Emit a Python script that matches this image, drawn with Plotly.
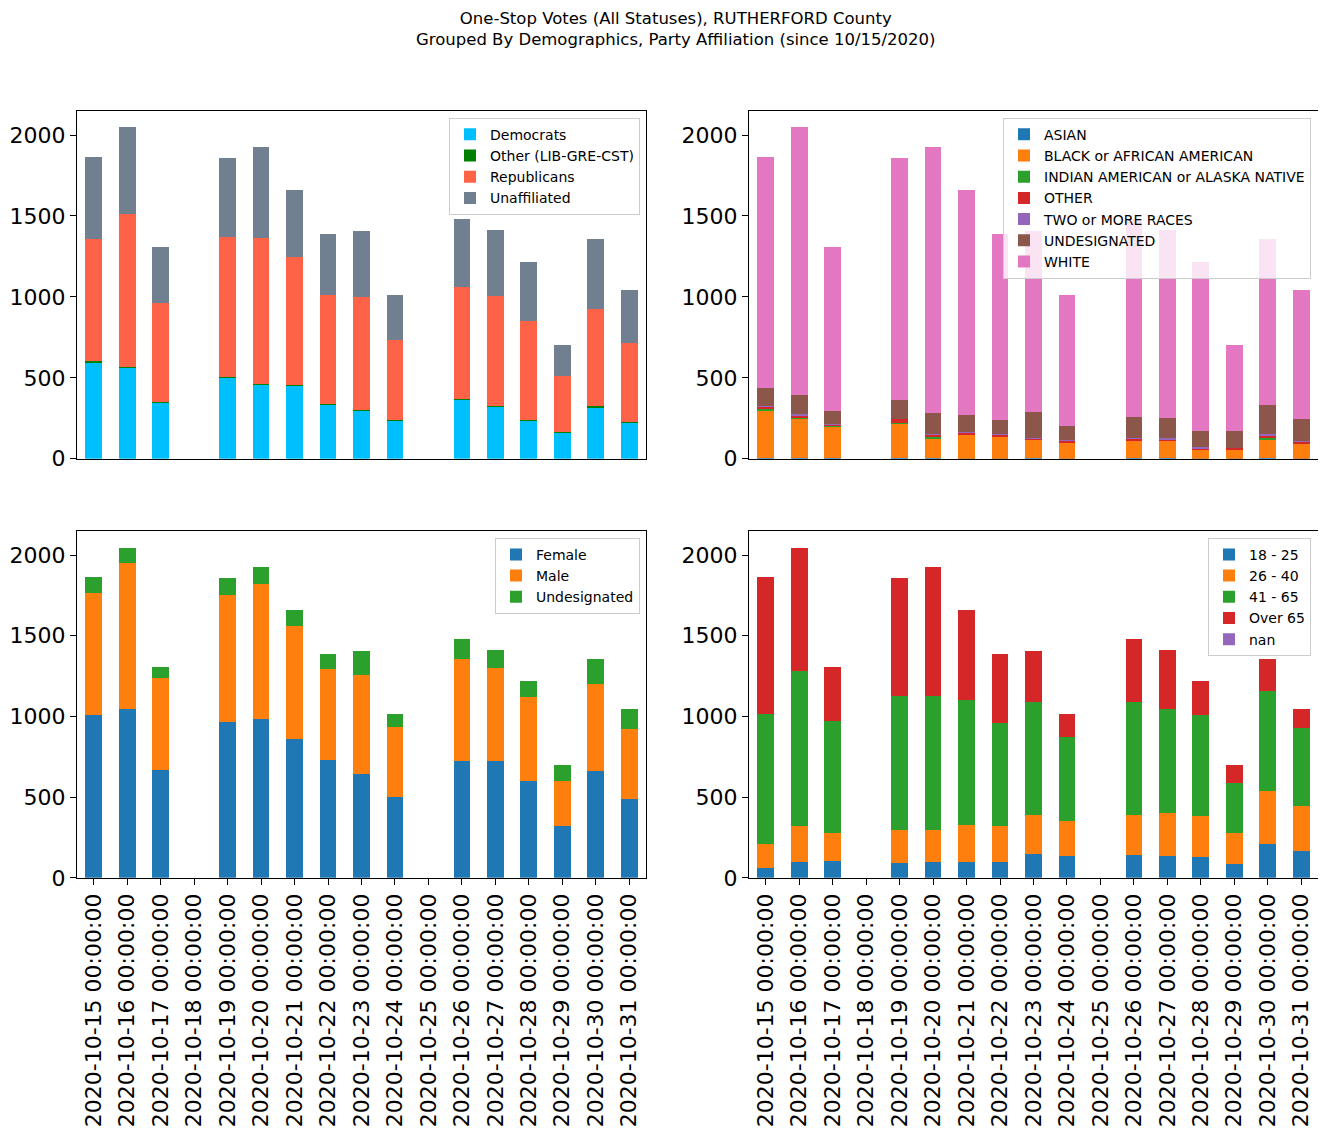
import plotly.graph_objects as go

dates = ["2020-10-15 00:00:00", "2020-10-16 00:00:00", "2020-10-17 00:00:00", "2020-10-18 00:00:00",
         "2020-10-19 00:00:00", "2020-10-20 00:00:00", "2020-10-21 00:00:00", "2020-10-22 00:00:00",
         "2020-10-23 00:00:00", "2020-10-24 00:00:00", "2020-10-25 00:00:00", "2020-10-26 00:00:00",
         "2020-10-27 00:00:00", "2020-10-28 00:00:00", "2020-10-29 00:00:00", "2020-10-30 00:00:00",
         "2020-10-31 00:00:00"]

# Party affiliation
democrats = [598, 568, 346, 0, 506, 461, 451, 334, 297, 236, 0, 365, 322, 236, 164, 316, 223]
other_party = [6, 1, 4, 0, 2, 2, 5, 2, 4, 1, 0, 4, 3, 3, 3, 8, 1]
republicans = [754, 943, 615, 0, 863, 904, 788, 678, 697, 495, 0, 694, 683, 615, 343, 604, 489]
unaffiliated = [505, 535, 344, 0, 486, 557, 416, 375, 410, 282, 0, 418, 406, 363, 191, 430, 332]

# Race
asian = [6, 6, 5, 0, 5, 2, 1, 1, 6, 1, 0, 6, 2, 1, 1, 6, 1]
black = [295, 242, 198, 0, 216, 127, 148, 135, 111, 98, 0, 105, 113, 55, 55, 117, 92]
indian = [5, 4, 1, 0, 1, 5, 1, 1, 1, 0, 0, 1, 1, 1, 0, 5, 1]
other_race = [16, 18, 8, 0, 25, 14, 12, 12, 10, 16, 0, 12, 4, 8, 12, 18, 12]
two_more = [1, 4, 1, 0, 1, 6, 1, 5, 1, 1, 0, 1, 6, 6, 1, 6, 1]
undesignated_race = [113, 119, 82, 0, 115, 129, 108, 84, 160, 86, 0, 133, 126, 101, 103, 178, 138]
white = [1427, 1654, 1014, 0, 1494, 1641, 1389, 1151, 1119, 812, 0, 1223, 1162, 1045, 529, 1028, 800]

# Gender
female = [1008, 1045, 670, 0, 965, 984, 861, 732, 645, 498, 0, 725, 725, 602, 320, 664, 486]
male = [756, 904, 566, 0, 787, 836, 700, 565, 615, 436, 0, 633, 578, 517, 282, 535, 436]
undesignated_gender = [99, 98, 73, 0, 105, 104, 99, 92, 148, 80, 0, 123, 111, 98, 99, 159, 123]

# Age
age_18_25 = [61, 98, 105, 0, 92, 98, 98, 98, 148, 135, 0, 141, 135, 129, 86, 209, 166]
age_26_40 = [148, 222, 172, 0, 203, 197, 228, 222, 239, 215, 0, 246, 265, 252, 191, 332, 277]
age_41_65 = [805, 959, 694, 0, 830, 830, 774, 639, 701, 523, 0, 701, 645, 627, 313, 615, 485]
age_over_65 = [849, 768, 338, 0, 732, 799, 560, 430, 320, 141, 0, 393, 369, 209, 111, 202, 117]
age_nan = [0] * 17

tab = ["#1f77b4", "#ff7f0e", "#2ca02c", "#d62728", "#9467bd", "#8c564b", "#e377c2"]

panels = [
    ("x", "y", "legend", [("Democrats", democrats, "#00BFFF"),
                          ("Other (LIB-GRE-CST)", other_party, "#008000"),
                          ("Republicans", republicans, "#FF6347"),
                          ("Unaffiliated", unaffiliated, "#708090")]),
    ("x2", "y2", "legend2", [("ASIAN", asian, tab[0]),
                             ("BLACK or AFRICAN AMERICAN", black, tab[1]),
                             ("INDIAN AMERICAN or ALASKA NATIVE", indian, tab[2]),
                             ("OTHER", other_race, tab[3]),
                             ("TWO or MORE RACES", two_more, tab[4]),
                             ("UNDESIGNATED", undesignated_race, tab[5]),
                             ("WHITE", white, tab[6])]),
    ("x3", "y3", "legend3", [("Female", female, tab[0]),
                             ("Male", male, tab[1]),
                             ("Undesignated", undesignated_gender, tab[2])]),
    ("x4", "y4", "legend4", [("18 - 25", age_18_25, tab[0]),
                             ("26 - 40", age_26_40, tab[1]),
                             ("41 - 65", age_41_65, tab[2]),
                             ("Over 65", age_over_65, tab[3]),
                             ("nan", age_nan, tab[4])]),
]

fig = go.Figure()
for xa, ya, lg, series in panels:
    for name, vals, color in series:
        fig.add_trace(go.Bar(x=dates, y=vals, name=name, xaxis=xa, yaxis=ya, legend=lg,
                             marker=dict(color=color, line=dict(width=0)),
                             hoverinfo="x+y+name"))

# page body has an 8px margin; figure is sized to fit inside the window
OFF = 8
W, H = 1314, 1125
def px_x(p):
    return (p - OFF) / W
def px_y(p):
    return 1 - (p - OFF) / H

left_dom = [px_x(77), px_x(646)]
right_dom = [px_x(749), px_x(1318)]
top_dom = [px_y(464), px_y(112)]
bot_dom = [px_y(888), px_y(537)]

font_family = "DejaVu Sans"
tick_font = dict(family=font_family, size=22, color="black")

def xaxis(dom, anchor, labels):
    return dict(domain=dom, anchor=anchor, type="category", range=[-0.5, 16.5],
                showline=True, linecolor="black", linewidth=1, mirror=True,
                showgrid=False, zeroline=False,
                ticks="outside" if labels else "", ticklen=6, tickcolor="black",
                showticklabels=labels, tickangle=-90, tickfont=tick_font,
                categoryorder="array", categoryarray=dates)

def yaxis(dom, anchor):
    return dict(domain=dom, anchor=anchor, range=[0, 2150],
                showline=True, linecolor="black", linewidth=1, mirror=True,
                showgrid=False, zeroline=False, ticks="outside", ticklen=6, tickcolor="black",
                tickvals=[0, 500, 1000, 1500, 2000], tickfont=tick_font)

legend_common = dict(xanchor="right", yanchor="top", bgcolor="rgba(255,255,255,0.8)",
                     bordercolor="#cccccc", borderwidth=1, traceorder="normal",
                     font=dict(family=font_family, size=14, color="black"),
                     itemwidth=30, tracegroupgap=0)

fig.update_layout(
    width=W, height=H,
    margin=dict(l=0, r=0, t=0, b=0),
    paper_bgcolor="white", plot_bgcolor="white",
    barmode="stack", bargap=0.5,
    font=dict(family=font_family, color="black"),
    xaxis=xaxis(left_dom, "y", False),
    yaxis=yaxis(top_dom, "x"),
    xaxis2=xaxis(right_dom, "y2", False),
    yaxis2=yaxis(top_dom, "x2"),
    xaxis3=xaxis(left_dom, "y3", True),
    yaxis3=yaxis(bot_dom, "x3"),
    xaxis4=xaxis(right_dom, "y4", True),
    yaxis4=yaxis(bot_dom, "x4"),
    legend=dict(legend_common, x=px_x(640), y=px_y(119)),
    legend2=dict(legend_common, x=px_x(1311), y=px_y(119)),
    legend3=dict(legend_common, x=px_x(640), y=px_y(544)),
    legend4=dict(legend_common, x=px_x(1311), y=px_y(544)),
    annotations=[dict(text="One-Stop Votes (All Statuses), RUTHERFORD County<br>Grouped By Demographics, Party Affiliation (since 10/15/2020)",
                      x=px_x(676), y=px_y(7), xref="paper", yref="paper", xanchor="center", yanchor="top",
                      showarrow=False, font=dict(family=font_family, size=16.5, color="black"))],
)

fig.write_html("out.html")
